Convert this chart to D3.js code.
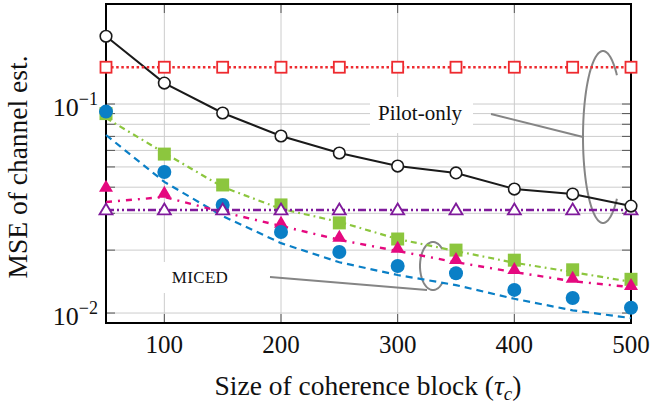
<!DOCTYPE html>
<html>
<head>
<meta charset="utf-8">
<script src="https://cdn.jsdelivr.net/npm/d3@7"></script>
<style>
  html, body { margin: 0; padding: 0; background: #fff; }
  svg { display: block; font-family: "Liberation Serif", "DejaVu Serif", serif; }
</style>
</head>
<body>
<svg id="chart" width="652" height="406"></svg>
<script>
// ---------------- data ----------------
const tauC = [50, 100, 150, 200, 250, 300, 350, 400, 450, 500];
const xTicks = [100, 200, 300, 400, 500];
const yMajor = [0.01, 0.1];
const yMinor = [0.02, 0.03, 0.04, 0.05, 0.06, 0.07, 0.08, 0.09];
const yMajorLabels = ["\u22122", "\u22121"];

const pilotLS     = [0.211, 0.126, 0.0906, 0.0703, 0.0583, 0.0505, 0.0468, 0.0392, 0.0371, 0.0325];
const pilotRed    = [0.150, 0.150, 0.150, 0.150, 0.150, 0.150, 0.150, 0.150, 0.150, 0.150];
const pilotPurple = [0.0311, 0.0311, 0.0311, 0.0311, 0.0311, 0.0311, 0.0311, 0.0311, 0.0311, 0.0311];
const greenSim    = [0.0900, 0.0576, 0.0410, 0.0329, 0.0270, 0.0226, 0.0200, 0.0179, 0.0161, 0.0145];
const greenLine   = [0.0857, 0.0583, 0.0401, 0.0315, 0.0273, 0.0226, 0.0198, 0.0174, 0.0157, 0.0141];
const pinkSim     = [0.0401, 0.0375, 0.0321, 0.0270, 0.0231, 0.0205, 0.0181, 0.0162, 0.0147, 0.0136];
const pinkLine    = [0.0340, 0.0359, 0.0304, 0.0261, 0.0224, 0.0198, 0.0175, 0.0157, 0.0142, 0.0133];
const blueSim     = [0.0920, 0.0473, 0.0329, 0.0244, 0.0196, 0.0168, 0.0155, 0.0129, 0.0118, 0.0106];
const blueLine    = [0.0711, 0.0424, 0.0291, 0.0216, 0.0175, 0.0152, 0.0136, 0.0117, 0.0103, 0.00946];

const xTitle = "Size of coherence block (";
const yTitle = "MSE of channel est.";

// ---------------- layout ----------------
const L = 106, R = 631, T = 4, B = 323;
const svg = d3.select("#chart");
const x = d3.scaleLinear().domain([50, 500]).range([L, R]);
const y = d3.scaleLog().domain([0.00896, 0.301]).range([B, T]);

const C = {
  black: "#1a1a1a", red: "#ee2a2f", purple: "#7f1a9b",
  green: "#8cc63e", pink: "#e5097f", blue: "#0a7fc6", grid: "#cccccc", gray: "#858585"
};

// grid
const g = svg.append("g");
g.selectAll(".vg").data(xTicks.slice(0, -1)).join("line")
  .attr("x1", d => x(d)).attr("x2", d => x(d)).attr("y1", T).attr("y2", B)
  .attr("stroke", C.grid).attr("stroke-width", 1);
g.selectAll(".hg").data(yMajor.concat(yMinor)).join("line")
  .attr("x1", L).attr("x2", R).attr("y1", d => y(d)).attr("y2", d => y(d))
  .attr("stroke", C.grid).attr("stroke-width", 1);

// ticks
const tk = svg.append("g").attr("stroke", "#555").attr("stroke-width", 1);
xTicks.slice(0, -1).forEach(d => {
  tk.append("line").attr("x1", x(d)).attr("x2", x(d)).attr("y1", B).attr("y2", B - 9);
  tk.append("line").attr("x1", x(d)).attr("x2", x(d)).attr("y1", T).attr("y2", T + 9);
});
yMajor.concat(yMinor).forEach(d => {
  tk.append("line").attr("x1", L).attr("x2", L + 9).attr("y1", y(d)).attr("y2", y(d));
  tk.append("line").attr("x1", R).attr("x2", R - 9).attr("y1", y(d)).attr("y2", y(d));
});

// annotations (behind curves)
const ann = svg.append("g");
ann.append("rect").attr("x", 370).attr("y", 97).attr("width", 103).attr("height", 36).attr("fill", "#fff");
ann.append("text").attr("x", 420).attr("y", 119.5).attr("text-anchor", "middle")
  .attr("font-size", 21).attr("fill", "#111").text("Pilot-only");
ann.append("line").attr("x1", 491).attr("y1", 114).attr("x2", 583).attr("y2", 137)
  .attr("stroke", C.gray).attr("stroke-width", 2);
function arcEllipse(cx, cy, rx, ry, a0, a1) {
  const pts = d3.range(a0, a1 + 0.5, 2).map(a => {
    const t = a * Math.PI / 180;
    return [cx + rx * Math.cos(t), cy + ry * Math.sin(t)];
  });
  return d3.line()(pts);
}
ann.append("path").attr("d", arcEllipse(603, 137, 20, 86, 46, 314))
  .attr("fill", "none").attr("stroke", C.gray).attr("stroke-width", 2);

ann.append("rect").attr("x", 160).attr("y", 262).attr("width", 80).attr("height", 31).attr("fill", "#fff");
ann.append("text").attr("x", 200).attr("y", 283).attr("text-anchor", "middle")
  .attr("font-size", 17).attr("fill", "#111").attr("letter-spacing", 0.3).text("MICED");
ann.append("line").attr("x1", 270).attr("y1", 277).attr("x2", 427).attr("y2", 290)
  .attr("stroke", C.gray).attr("stroke-width", 2);
ann.append("path").attr("d", arcEllipse(433, 266, 13, 24, 45, 315))
  .attr("fill", "none").attr("stroke", C.gray).attr("stroke-width", 2);

// border
svg.append("rect").attr("x", L).attr("y", T).attr("width", R - L).attr("height", B - T)
  .attr("fill", "none").attr("stroke", "#000").attr("stroke-width", 2);

// ---------------- curves ----------------
const line = d3.line().x((d, i) => x(tauC[i])).y(d => y(d));
function drawLine(vals, color, width, dash) {
  svg.append("path").attr("d", line(vals)).attr("fill", "none")
    .attr("stroke", color).attr("stroke-width", width)
    .attr("stroke-dasharray", dash || null);
}
function squares(vals, s, fill, stroke, sw) {
  svg.append("g").selectAll("rect").data(vals).join("rect")
    .attr("x", (d, i) => x(tauC[i]) - s / 2).attr("y", d => y(d) - s / 2)
    .attr("width", s).attr("height", s)
    .attr("fill", fill).attr("stroke", stroke).attr("stroke-width", sw);
}
function circles(vals, r, fill, stroke, sw) {
  svg.append("g").selectAll("circle").data(vals).join("circle")
    .attr("cx", (d, i) => x(tauC[i])).attr("cy", d => y(d)).attr("r", r)
    .attr("fill", fill).attr("stroke", stroke).attr("stroke-width", sw);
}
function triangles(vals, w, h, fill, stroke, sw) {
  svg.append("g").selectAll("path").data(vals).join("path")
    .attr("d", (d, i) => {
      const cx = x(tauC[i]), cy = y(d);
      return `M${cx},${cy - h * 0.6}L${cx + w / 2},${cy + h * 0.4}L${cx - w / 2},${cy + h * 0.4}Z`;
    })
    .attr("fill", fill).attr("stroke", stroke).attr("stroke-width", sw).attr("stroke-linejoin", "miter");
}

drawLine(blueLine, C.blue, 2.2, "7,5");
drawLine(greenLine, C.green, 2.2, "6,4,1.8,4");
squares(greenSim, 13, C.green, "none", 0);
drawLine(pinkLine, C.pink, 2.4, "6,6,2,6");
triangles(pinkSim, 14, 12, C.pink, "none", 0);
circles(blueSim, 7, C.blue, "none", 0);
drawLine(pilotPurple, C.purple, 2.4, "8,3,2,3,2,3");
triangles(pilotPurple, 13, 11, "#fff", C.purple, 1.8);
drawLine(pilotLS, C.black, 2, null);
circles(pilotLS, 5.8, "#fff", C.black, 1.6);
drawLine(pilotRed, C.red, 2.6, "2.5,2.6");
squares(pilotRed, 11, "#fff", C.red, 1.8);

// ---------------- tick labels ----------------
svg.append("g").selectAll("text").data(xTicks).join("text")
  .attr("x", d => x(d)).attr("y", 353).attr("text-anchor", "middle")
  .attr("font-size", 25).attr("fill", "#111").text(d => d);

const yl = svg.append("g").selectAll("text").data(yMajor).join("text")
  .attr("x", 98).attr("y", d => y(d) + 11.5).attr("text-anchor", "end")
  .attr("font-size", 26).attr("fill", "#111");
yl.append("tspan").text("10");
yl.append("tspan").attr("font-size", 18).attr("dy", -11).text((d, i) => yMajorLabels[i]);

// axis titles
const xt = svg.append("text").attr("x", 368).attr("y", 395).attr("text-anchor", "middle")
  .attr("font-size", 27.5).attr("fill", "#111");
xt.append("tspan").text(xTitle);
xt.append("tspan").attr("font-style", "italic").text("\u03C4");
xt.append("tspan").attr("font-style", "italic").attr("font-size", 19).attr("dy", 5).text("c");
xt.append("tspan").attr("dy", -5).text(")");

svg.append("text").attr("transform", "translate(27,167) rotate(-90)")
  .attr("text-anchor", "middle").attr("font-size", 27.5).attr("fill", "#111").text(yTitle);
</script>
</body>
</html>
